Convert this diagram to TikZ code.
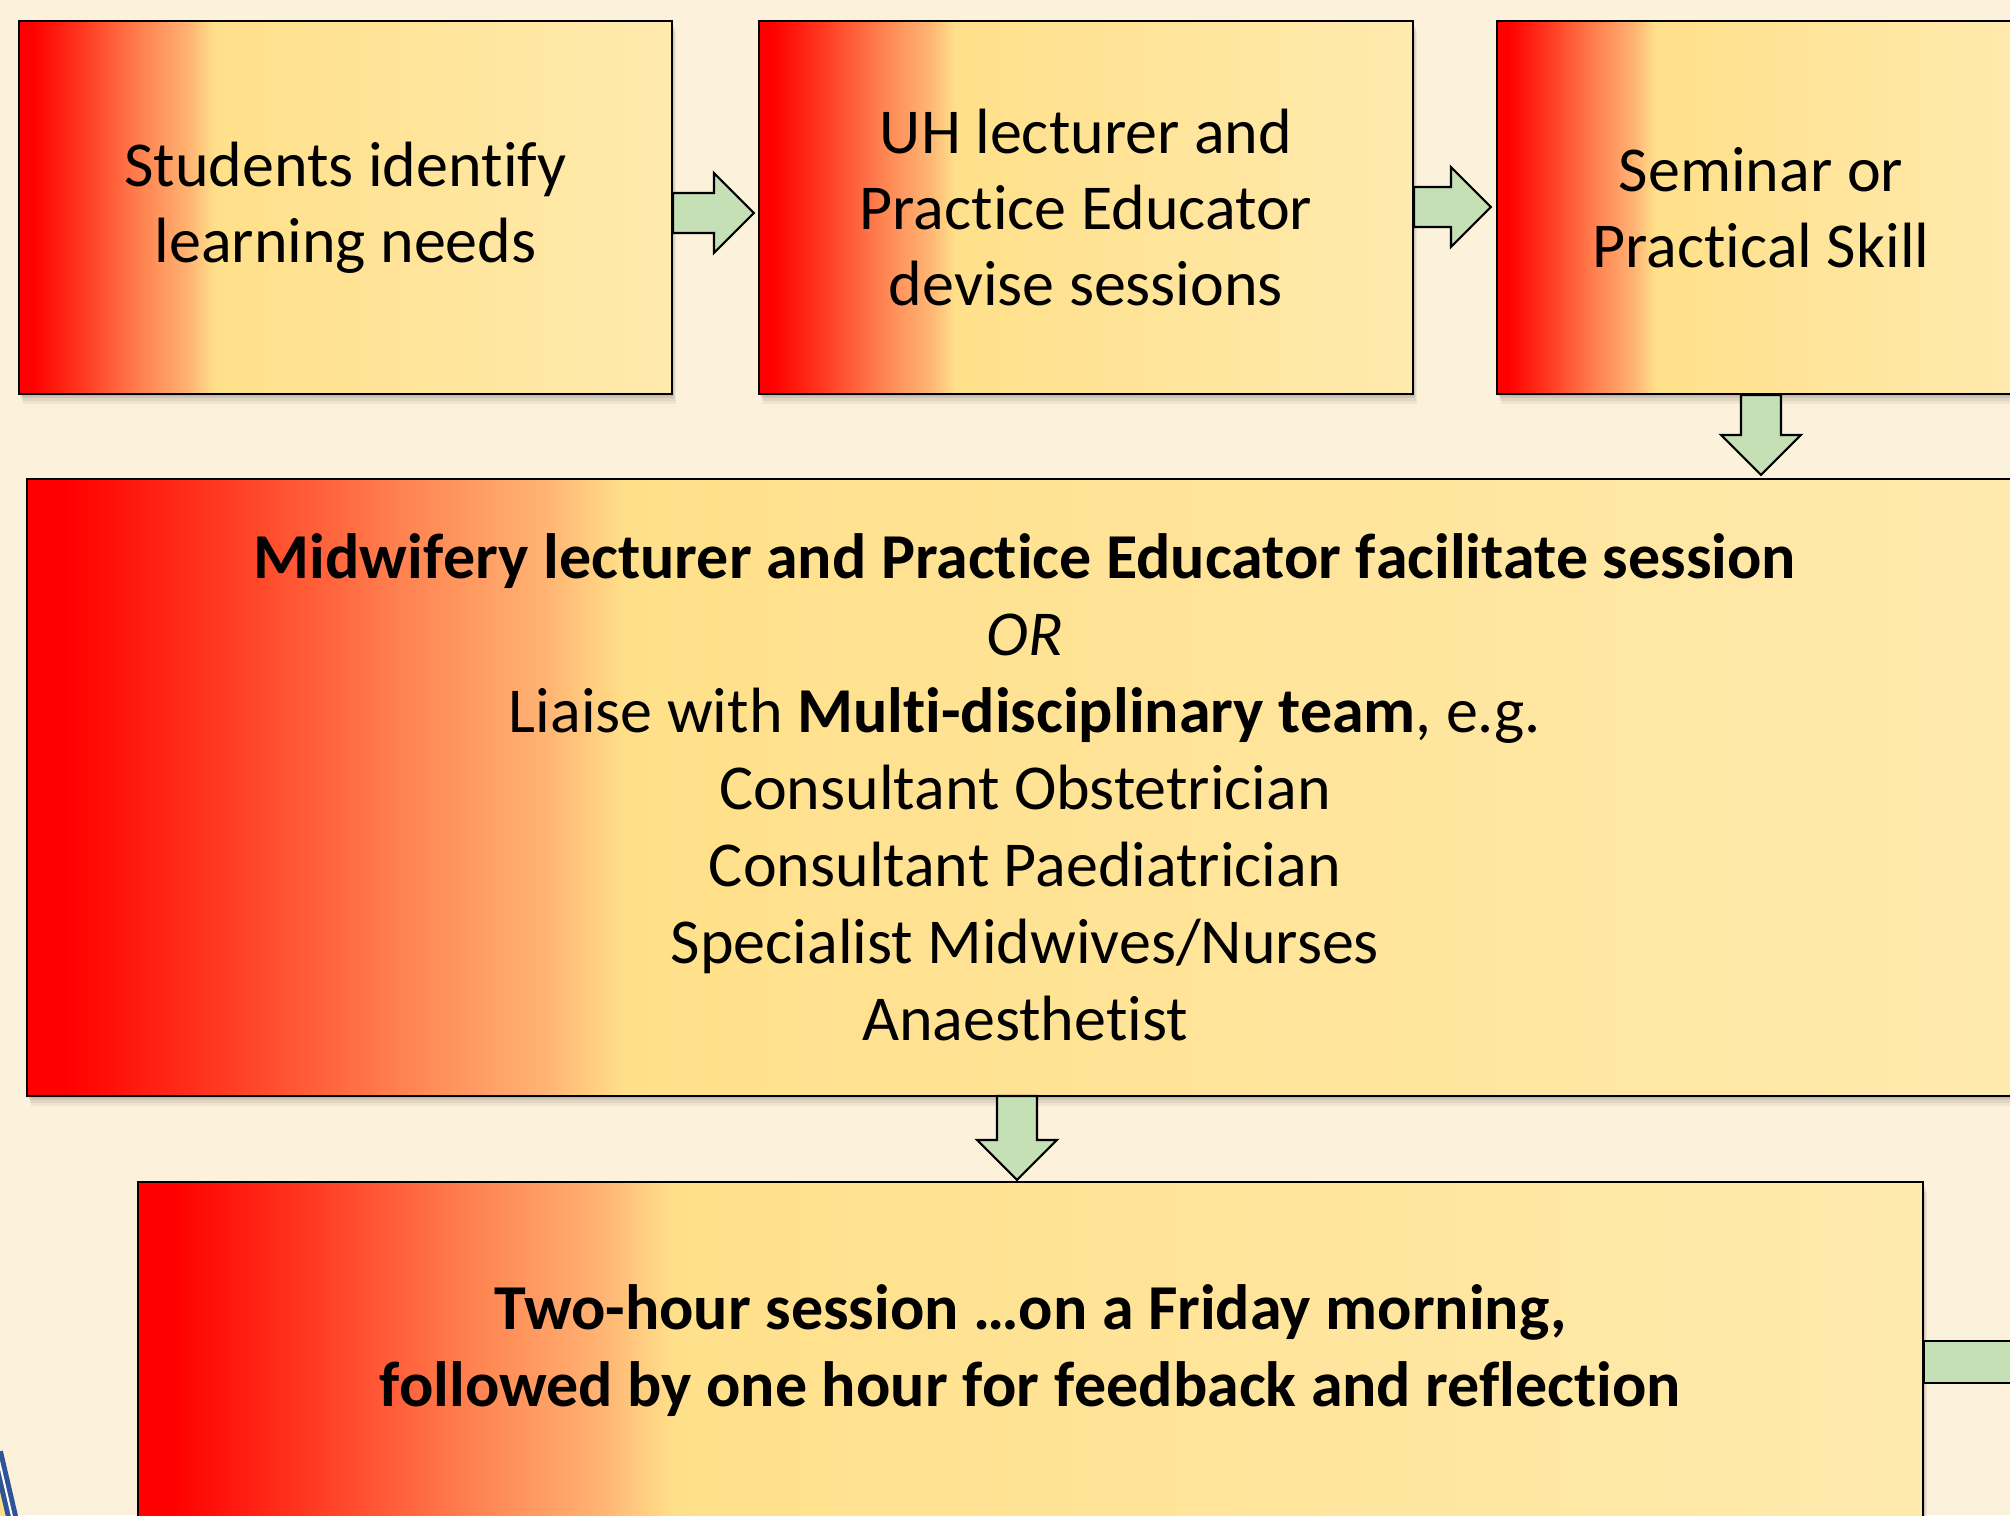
\documentclass[tikz,border=0pt]{standalone}
\usepackage{fontspec}
\setmainfont{Carlito}[RawFeature={-liga;-clig;-rlig;-dlig;-calt}]
\usetikzlibrary{calc,shadows}

% keeps letter pairs such as t-i and f-l as separate glyphs
\newcommand\sep{\kern0pt{}}

\definecolor{stepred}{HTML}{FF0000}
\definecolor{steporangered}{HTML}{FF3C22}
\definecolor{steporange}{HTML}{FF8452}
\definecolor{steplightorange}{HTML}{FFB473}
\definecolor{stepyellow}{HTML}{FFE08A}
\definecolor{steppale}{HTML}{FFEAAE}
\definecolor{paper}{HTML}{FCF1DB}
\definecolor{arrowgreen}{HTML}{C4E0B4}
\definecolor{edgeblue}{HTML}{2F5597}

% red-to-yellow fill used by every step box (25bp..75bp spans the box)
\pgfdeclarehorizontalshading{boxgrad}{100bp}{%
  color(0bp)=(stepred);
  color(25bp)=(stepred);
  color(26bp)=(stepred);
  color(30bp)=(steporangered);
  color(34.5bp)=(steporange);
  color(38bp)=(steplightorange);
  color(40bp)=(stepyellow);
  color(75bp)=(steppale);
  color(100bp)=(steppale)}

\tikzset{
  softshadow/.style={
    general shadow={fill=black, opacity=0.07, shadow xshift=1pt, shadow yshift=-2pt},
    general shadow={fill=black, opacity=0.07, shadow xshift=2pt, shadow yshift=-4pt},
    general shadow={fill=black, opacity=0.06, shadow xshift=3pt, shadow yshift=-7pt},
    general shadow={fill=black, opacity=0.05, shadow xshift=4pt, shadow yshift=-10pt}},
  stepbox/.style={rectangle, draw=black, line width=2.2pt, inner sep=0pt,
    shading=boxgrad, softshadow, align=center, text=black,
    font=\fontsize{64}{76}\selectfont},
  blockarrow/.style={draw=black, line width=2.2pt, fill=arrowgreen, line join=miter},
}

% right-pointing block arrow from #1 to its tip #2
\newcommand\rightblock[2]{%
  \draw[blockarrow] ($(#1)+(0,-20)$) -- ($(#2)+(-40,-20)$) -- ($(#2)+(-40,-40)$)
    -- (#2) -- ($(#2)+(-40,40)$) -- ($(#2)+(-40,20)$) -- ($(#1)+(0,20)$) -- cycle;}
% downward block arrow from #1 to its tip #2
\newcommand\downblock[2]{%
  \draw[blockarrow] ($(#1)+(-20,0)$) -- ($(#2)+(-20,-40)$) -- ($(#2)+(-40,-40)$)
    -- (#2) -- ($(#2)+(40,-40)$) -- ($(#2)+(20,-40)$) -- ($(#1)+(20,0)$) -- cycle;}

\begin{document}
\begin{tikzpicture}[x=1pt, y=-1pt]
  \useasboundingbox (0,0) rectangle (2010,1515);
  \clip (0,0) rectangle (2010,1515);
  \fill[paper] (0,0) rectangle (2010,1515);

  % corner of a neighbouring shape, bottom left
  \fill[stepyellow] (-20,1455) -- (0,1463) -- (16,1525) -- (-20,1525) -- cycle;
  \draw[edgeblue, line width=5pt, double=white, double distance=2pt] (-3,1452) -- (14,1525);

  % top row
  \node[stepbox, minimum width=653, minimum height=373] (b1) at (345.5,207.5)
    {Students iden\sep t\sep i\sep f\sep y\\learning needs};
  \node[stepbox, minimum width=654, minimum height=373] (b2) at (1086,207.5)
    {UH lecturer and\\Pract\sep ice Educator\\devise sessions};
  \node[stepbox, minimum width=528, minimum height=373] (b3) at (1761,207.5)
    {Seminar or\\Pract\sep ical Skill};

  % facilitation box
  \node[stepbox, minimum width=1996, minimum height=617,
        font=\fontsize{64}{77}\selectfont] (b4) at (1025,787.5)
    {\textbf{Midwif\sep ery lecturer and Pract\sep ice Educator f\sep acilit\sep ate session}\\
     \textit{OR}\\
     Liaise with \textbf{Mult\sep i-disciplinary team}, e.g.\\
     Consultant Obstetrician\\
     Consultant Paediatrician\\
     Specialist Midwives/Nurses\\
     Anaesthet\sep ist};

  % session box
  \node[stepbox, minimum width=1785, minimum height=338,
        font=\bfseries\fontsize{64}{77}\selectfont] (b5) at (1030.5,1351)
    {Two-hour session …on a Friday morning,\\
     followed by one hour f\sep or f\sep eedback and ref\sep lect\sep ion};

  % connectors
  \coordinate (a1s) at (b1.east |- 0,213);
  \coordinate (a1e) at ($(b2.west |- 0,213)+(-4,0)$);
  \rightblock{a1s}{a1e}
  \coordinate (a2s) at (b2.east |- 0,207);
  \coordinate (a2e) at ($(b3.west |- 0,207)+(-5,0)$);
  \rightblock{a2s}{a2e}
  \coordinate (a3s) at (b3.south);
  \coordinate (a3e) at ($(b4.north -| b3.south)+(0,-3)$);
  \downblock{a3s}{a3e}
  \coordinate (a4s) at (1017,1096);
  \coordinate (a4e) at ($(b5.north -| a4s)+(0,-1)$);
  \downblock{a4s}{a4e}

  % outgoing arrow on the right of the session box
  \coordinate (a5e) at (2040,1362);
  \draw[blockarrow] ($(b5.east |- a5e)+(0,-21)$) -- ($(a5e)+(0,-21)$)
    -- ($(a5e)+(0,21)$) -- ($(b5.east |- a5e)+(0,21)$) -- cycle;
\end{tikzpicture}
\end{document}
